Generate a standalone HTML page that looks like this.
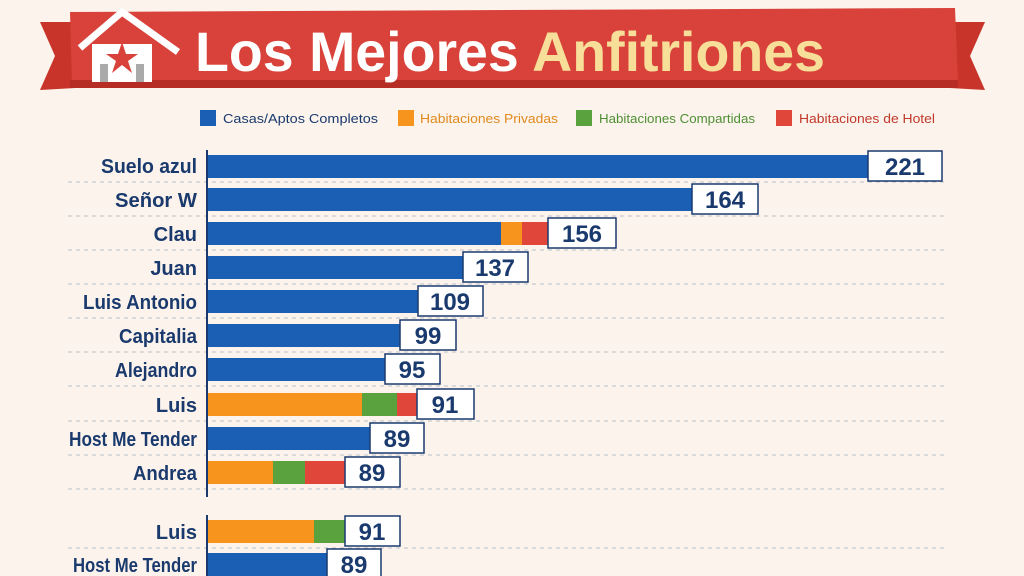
<!DOCTYPE html>
<html><head><meta charset="utf-8"><style>
html,body{margin:0;padding:0;background:#fbf3ec;}
svg{display:block}
text{font-family:"Liberation Sans",sans-serif;}
</style></head><body>
<svg width="1024" height="576" viewBox="0 0 1024 576" xmlns="http://www.w3.org/2000/svg">
<rect width="1024" height="576" fill="#fbf3ec"/>
<!-- ribbon -->
<polygon points="40,22 75,22 75,88 40,90 55,56" fill="#c8342a"/>
<polygon points="985,22 950,22 950,88 985,90 970,56" fill="#c8342a"/>
<polygon points="70,12 955,8 958,82 72,86" fill="#d9423a"/>
<rect x="70" y="80" width="888" height="8" fill="#b52d25"/>
<!-- house -->
<polyline points="80,48 122,12 178,52" stroke="#fff" stroke-width="7" fill="none" stroke-linejoin="round"/>
<rect x="92" y="44" width="60" height="38" fill="#fff"/>
<polygon points="122,42 126,54 138,54 128,61 132,73 122,65 112,73 116,61 106,54 118,54" fill="#d9423a"/>
<rect x="100" y="64" width="8" height="18" fill="#aaa"/><rect x="136" y="64" width="8" height="18" fill="#aaa"/>
<text x="195" y="71" font-size="56" font-weight="bold" fill="#fff" textLength="630" lengthAdjust="spacingAndGlyphs">Los Mejores <tspan fill="#f7df9a">Anfitriones</tspan></text>
<!-- legend -->
<g font-size="13">
<rect x="200" y="110" width="16" height="16" fill="#1a5fb4"/><text x="223" y="123" fill="#1a3a6e" textLength="155" lengthAdjust="spacingAndGlyphs">Casas/Aptos Completos</text>
<rect x="398" y="110" width="16" height="16" fill="#f7941d"/><text x="420" y="123" fill="#e08a1e" textLength="138" lengthAdjust="spacingAndGlyphs">Habitaciones Privadas</text>
<rect x="576" y="110" width="16" height="16" fill="#5aa23e"/><text x="599" y="123" fill="#4f8f35" textLength="156" lengthAdjust="spacingAndGlyphs">Habitaciones Compartidas</text>
<rect x="776" y="110" width="16" height="16" fill="#e0463a"/><text x="799" y="123" fill="#c0392b" textLength="136" lengthAdjust="spacingAndGlyphs">Habitaciones de Hotel</text>
</g>
<!-- dashed lines -->
<g stroke="#b9c0c8" stroke-width="1" stroke-dasharray="4,4">
<line x1="68" y1="182" x2="945" y2="182"/><line x1="68" y1="216" x2="945" y2="216"/>
<line x1="68" y1="250" x2="945" y2="250"/><line x1="68" y1="284" x2="945" y2="284"/>
<line x1="68" y1="318" x2="945" y2="318"/><line x1="68" y1="352" x2="945" y2="352"/>
<line x1="68" y1="386" x2="945" y2="386"/><line x1="68" y1="421" x2="945" y2="421"/>
<line x1="68" y1="455" x2="945" y2="455"/><line x1="68" y1="489" x2="945" y2="489"/>
<line x1="68" y1="548" x2="945" y2="548"/>
</g>
<line x1="207" y1="150" x2="207" y2="497" stroke="#1a3a6e" stroke-width="2"/>
<line x1="207" y1="515" x2="207" y2="576" stroke="#1a3a6e" stroke-width="2"/>
<!-- bars -->
<g>
<rect x="208" y="155" width="660" height="23" fill="#1a5fb4"/>
<rect x="208" y="188" width="484" height="23" fill="#1a5fb4"/>
<rect x="208" y="222" width="293" height="23" fill="#1a5fb4"/><rect x="501" y="222" width="21" height="23" fill="#f7941d"/><rect x="522" y="222" width="26" height="23" fill="#e0463a"/>
<rect x="208" y="256" width="255" height="23" fill="#1a5fb4"/>
<rect x="208" y="290" width="210" height="23" fill="#1a5fb4"/>
<rect x="208" y="324" width="192" height="23" fill="#1a5fb4"/>
<rect x="208" y="358" width="177" height="23" fill="#1a5fb4"/>
<rect x="208" y="393" width="154" height="23" fill="#f7941d"/><rect x="362" y="393" width="35" height="23" fill="#5aa23e"/><rect x="397" y="393" width="20" height="23" fill="#e0463a"/>
<rect x="208" y="427" width="162" height="23" fill="#1a5fb4"/>
<rect x="208" y="461" width="65" height="23" fill="#f7941d"/><rect x="273" y="461" width="32" height="23" fill="#5aa23e"/><rect x="305" y="461" width="40" height="23" fill="#e0463a"/>
<rect x="208" y="520" width="106" height="23" fill="#f7941d"/><rect x="314" y="520" width="31" height="23" fill="#5aa23e"/>
<rect x="208" y="553" width="119" height="23" fill="#1a5fb4"/>
</g>
<!-- value boxes -->
<g fill="#fff" stroke="#1a3a6e" stroke-width="1.5">
<rect x="868" y="151" width="74" height="30"/>
<rect x="692" y="184" width="66" height="30"/>
<rect x="548" y="218" width="68" height="30"/>
<rect x="463" y="252" width="65" height="30"/>
<rect x="418" y="286" width="65" height="30"/>
<rect x="400" y="320" width="56" height="30"/>
<rect x="385" y="354" width="55" height="30"/>
<rect x="417" y="389" width="57" height="30"/>
<rect x="370" y="423" width="54" height="30"/>
<rect x="345" y="457" width="55" height="30"/>
<rect x="345" y="516" width="55" height="30"/>
<rect x="327" y="549" width="54" height="30"/>
</g>
<g font-size="24" font-weight="bold" fill="#1a3a6e" text-anchor="middle">
<text x="905" y="175">221</text><text x="725" y="208">164</text><text x="582" y="242">156</text>
<text x="495" y="276">137</text><text x="450" y="310">109</text><text x="428" y="344">99</text>
<text x="412" y="378">95</text><text x="445" y="413">91</text><text x="397" y="447">89</text>
<text x="372" y="481">89</text><text x="372" y="540">91</text><text x="354" y="573">89</text>
</g>
<g font-size="20" font-weight="bold" fill="#1a3a6e" text-anchor="end" lengthAdjust="spacingAndGlyphs">
<text x="197" y="173" textLength="96" lengthAdjust="spacingAndGlyphs">Suelo azul</text>
<text x="197" y="207" textLength="82" lengthAdjust="spacingAndGlyphs">Señor W</text>
<text x="197" y="241">Clau</text>
<text x="197" y="275">Juan</text>
<text x="197" y="309" textLength="114" lengthAdjust="spacingAndGlyphs">Luis Antonio</text>
<text x="197" y="343" textLength="78" lengthAdjust="spacingAndGlyphs">Capitalia</text>
<text x="197" y="377" textLength="82" lengthAdjust="spacingAndGlyphs">Alejandro</text>
<text x="197" y="412">Luis</text>
<text x="197" y="446" textLength="128" lengthAdjust="spacingAndGlyphs">Host Me Tender</text>
<text x="197" y="480" textLength="64" lengthAdjust="spacingAndGlyphs">Andrea</text>
<text x="197" y="539">Luis</text>
<text x="197" y="572" textLength="124" lengthAdjust="spacingAndGlyphs">Host Me Tender</text>
</g>
</svg>
</body></html>
